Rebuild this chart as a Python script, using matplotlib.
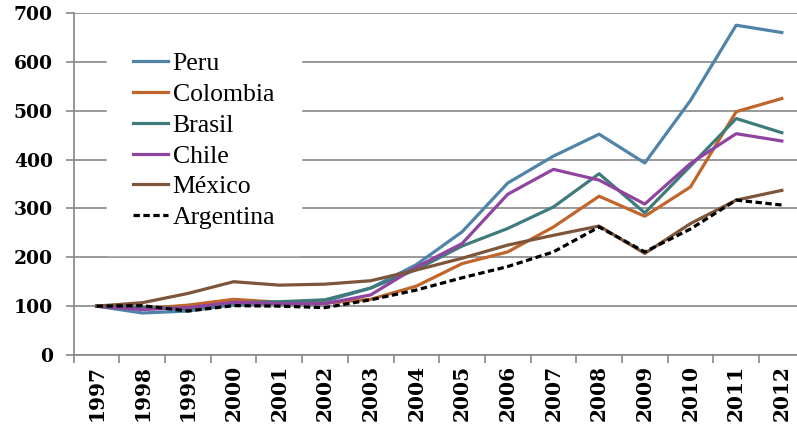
import matplotlib.pyplot as plt

# Données (indice base 100 en 1997)
years = ['1997', '1998', '1999', '2000', '2001', '2002', '2003', '2004',
         '2005', '2006', '2007', '2008', '2009', '2010', '2011', '2012']

peru = [100, 86, 90, 103, 106, 110, 137, 185, 252, 352, 407, 452, 393, 521, 675, 660]
colombia = [100, 95, 102, 114, 108, 106, 114, 141, 187, 211, 262, 325, 284, 344, 498, 525]
brasil = [100, 97, 95, 107, 109, 113, 137, 175, 223, 259, 303, 371, 291, 387, 484, 455]
chile = [100, 93, 97, 108, 105, 105, 123, 180, 228, 329, 380, 358, 309, 392, 453, 438]
mexico = [100, 107, 126, 150, 143, 145, 152, 174, 198, 225, 245, 264, 208, 269, 317, 337]
argentina = [100, 101, 90, 101, 100, 97, 113, 133, 158, 181, 211, 262, 211, 258, 317, 307]

yticks = [0, 100, 200, 300, 400, 500, 600, 700]

fig = plt.figure(figsize=(7.97, 4.25), dpi=100, facecolor='w')
ax = fig.add_axes([73.7/797, 1-355/425, 731/797, 342/425])

x = range(len(years))
ax.plot(x, peru, color='#4f83a8', lw=2.3, label='Peru')
ax.plot(x, colombia, color='#c0652b', lw=2.3, label='Colombia')
ax.plot(x, brasil, color='#3f7b7b', lw=2.3, label='Brasil')
ax.plot(x, chile, color='#8f459f', lw=2.3, label='Chile')
ax.plot(x, mexico, color='#7d553b', lw=2.3, label='México')
ax.plot(x, argentina, color='black', lw=2.3, ls=(0, (2.0, 1.1)), label='Argentina')

ax.set_xlim(-0.5, len(years)-0.5)
ax.set_ylim(0, 700)
ax.set_yticks(yticks)
ax.set_yticklabels([str(v) for v in yticks], fontfamily='DejaVu Serif',
                   fontweight='bold', fontsize=13.5)
ax.set_xticks([i + 0.5 for i in range(-1, len(years))], minor=False)
ax.set_xticklabels([])
ax.set_xticks(list(x), minor=True)
ax.set_xticklabels(years, minor=True, rotation=90, fontfamily='DejaVu Serif',
                   fontweight='bold', fontsize=14.5)
ax.tick_params(axis='x', which='minor', length=0, pad=7)
ax.tick_params(axis='x', which='major', length=6, color='#888888', width=1.2)
ax.tick_params(axis='y', length=6, color='#888888', width=1.2, pad=9)

ax.grid(axis='y', color='#888888', lw=1.2)
ax.set_axisbelow(True)
for s in ('top', 'right'):
    ax.spines[s].set_visible(False)
for s in ('left', 'bottom'):
    ax.spines[s].set_color('#888888')
    ax.spines[s].set_linewidth(1.2)

leg = ax.legend(loc='upper left', bbox_to_anchor=(107/797, 1-26/425),
                bbox_transform=fig.transFigure, frameon=True, fancybox=False,
                prop={'family': 'Liberation Serif', 'size': 18.5},
                handlelength=1.36, handletextpad=0.2, labelspacing=0.31,
                borderpad=1.0, borderaxespad=0)
leg.get_frame().set_facecolor('white')
leg.get_frame().set_edgecolor('white')
leg.get_frame().set_alpha(1)

fig.savefig('out.png', dpi=100)
